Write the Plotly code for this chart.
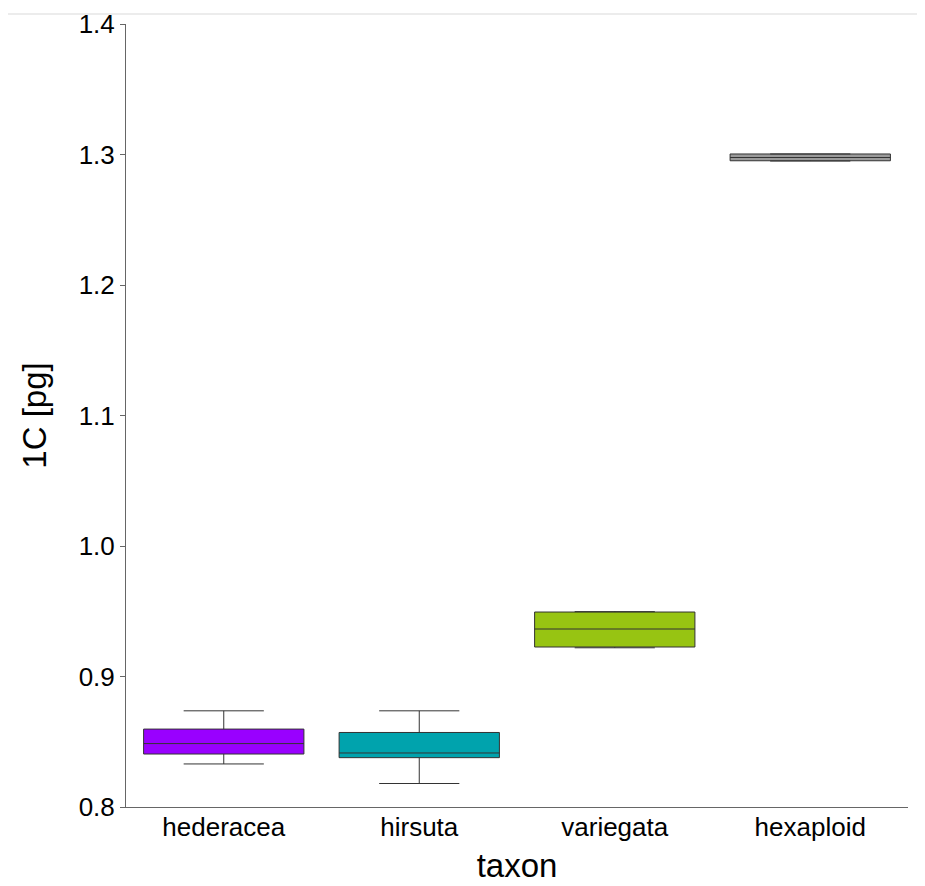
import plotly.graph_objects as go

taxa = ["hederacea", "hirsuta", "variegata", "hexaploid"]
lower = [0.833, 0.818, 0.922, 1.295]
q1 = [0.8406, 0.8378, 0.9226, 1.2952]
median = [0.8486, 0.8414, 0.9364, 1.2977]
q3 = [0.8597, 0.8571, 0.9494, 1.3004]
upper = [0.8737, 0.8737, 0.9497, 1.3004]
colors = ["#9900FF", "#00A3AD", "#97C412", "#9A9A9A"]

fig = go.Figure()
for i, t in enumerate(taxa):
    fig.add_trace(go.Box(
        x=[t], q1=[q1[i]], median=[median[i]], q3=[q3[i]],
        lowerfence=[lower[i]], upperfence=[upper[i]],
        fillcolor=colors[i], line=dict(color="#333333", width=1),
        width=0.82, whiskerwidth=0.5, showlegend=False, boxpoints=False,
        hoverinfo="skip",
    ))

fig.update_layout(
    width=917, height=878,
    margin=dict(l=118, r=17, t=16, b=79, autoexpand=False),
    paper_bgcolor="white", plot_bgcolor="white",
    boxmode="overlay",
    font=dict(family="Liberation Sans, Arial, sans-serif", color="#000000", size=26),
    xaxis=dict(
        type="category", categoryorder="array", categoryarray=taxa,
        range=[-0.5, 3.5],
        showline=True, linecolor="#666666", linewidth=1, ticks="",
        showgrid=False, zeroline=False, automargin=False,
        title=dict(text="taxon", font=dict(size=33), standoff=12),
        tickfont=dict(size=26), ticklabelstandoff=-3,
    ),
    yaxis=dict(
        range=[0.8, 1.4], dtick=0.1, tick0=0.8, tickformat=".1f",
        showline=True, linecolor="#666666", linewidth=1,
        ticks="outside", ticklen=5, tickcolor="#666666",
        showgrid=False, zeroline=False, automargin=False,
        title=dict(text="1C [pg]", font=dict(size=33), standoff=22),
        tickfont=dict(size=26),
    ),
    shapes=[dict(
        type="line", xref="paper", yref="paper",
        x0=-121 / 782, x1=799 / 782, y0=1 + 10 / 783, y1=1 + 10 / 783,
        line=dict(color="#D9D9D9", width=1),
    )],
)

fig.write_html("out.html")
